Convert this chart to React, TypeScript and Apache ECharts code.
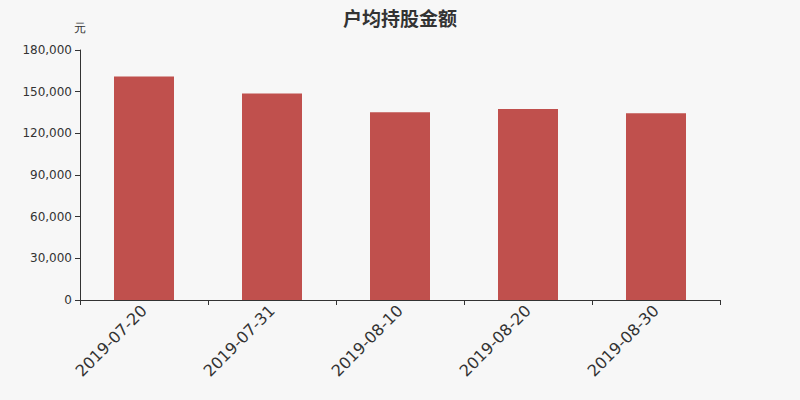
import React, { useEffect, useRef } from "react";
import * as echarts from "echarts";

const categories = ["2019-07-20", "2019-07-31", "2019-08-10", "2019-08-20", "2019-08-30"];
const values = [161000, 148600, 135100, 137500, 134400];
const yTicks = [0, 30000, 60000, 90000, 120000, 150000, 180000];

export default function App() {
  const ref = useRef<HTMLDivElement>(null);
  useEffect(() => {
    const chart = echarts.init(ref.current!, null, { renderer: "svg" });
    chart.setOption({
      animation: false,
      backgroundColor: "#f7f7f7",
      title: {
        text: "户均持股金额",
        left: "center",
        top: 3,
        textStyle: { fontSize: 19, fontWeight: "bold", color: "#333", fontFamily: "Noto Sans CJK SC" },
      },
      grid: { left: 80, right: 80, top: 50, bottom: 100 },
      xAxis: {
        type: "category",
        data: categories,
        axisLine: { lineStyle: { color: "#333" } },
        axisTick: { show: true, alignWithLabel: false, lineStyle: { color: "#333" } },
        axisLabel: { rotate: 45, fontSize: 16, color: "#333", fontFamily: "DejaVu Sans", interval: 0 },
      },
      yAxis: {
        type: "value",
        name: "元",
        nameGap: 16,
        nameTextStyle: { color: "#333", fontSize: 12, align: "right", padding: [0, -6, 0, 0] },
        min: yTicks[0],
        max: yTicks[yTicks.length - 1],
        interval: 30000,
        axisLine: { show: true, lineStyle: { color: "#333" } },
        axisTick: { show: true, lineStyle: { color: "#333" } },
        splitLine: { show: false },
        axisLabel: {
          fontSize: 12,
          color: "#333",
          fontFamily: "DejaVu Sans",
          formatter: (v: number) => v.toLocaleString("en-US"),
        },
      },
      series: [
        {
          type: "bar",
          data: values,
          barWidth: 60,
          itemStyle: { color: "#c0504d" },
        },
      ],
    });
    return () => chart.dispose();
  }, []);
  return <div ref={ref} style={{ width: 800, height: 400, position: "fixed", left: 0, top: 0 }} />;
}
